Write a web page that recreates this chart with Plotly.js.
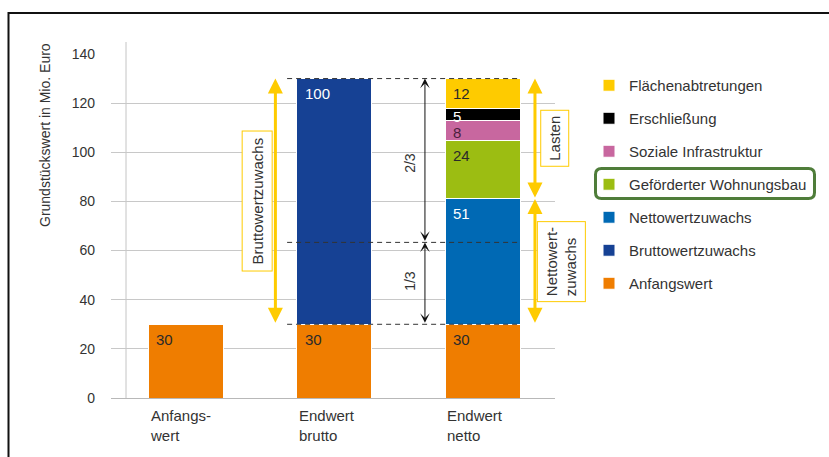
<!DOCTYPE html>
<html>
<head>
<meta charset="utf-8">
<script src="https://cdn.plot.ly/plotly-3.0.1.min.js"></script>
<style>
  html, body { margin: 0; padding: 0; background: #fff; }
  #chart { width: 829px; height: 457px; }
</style>
</head>
<body>
<div id="chart"></div>
<script>
// ---------- data ----------
const categories = ['Anfangswert', 'Endwert brutto', 'Endwert netto'];
const categoryLabels = ['Anfangs-<br>wert', 'Endwert<br>brutto', 'Endwert<br>netto'];

const seriesNames = ['Anfangswert', 'Bruttowertzuwachs', 'Nettowertzuwachs',
  'Geförderter Wohnungsbau', 'Soziale Infrastruktur', 'Erschließung', 'Flächenabtretungen'];
const anfangswert      = [30, 30, 30];
const bruttowertzuwachs = [null, 100, null];
const nettowertzuwachs  = [null, null, 51];
const gefoerderterWohnungsbau = [null, null, 24];
const sozialeInfrastruktur = [null, null, 8];
const erschliessung     = [null, null, 5];
const flaechenabtretungen = [null, null, 12];
const seriesValues = [anfangswert, bruttowertzuwachs, nettowertzuwachs,
  gefoerderterWohnungsbau, sozialeInfrastruktur, erschliessung, flaechenabtretungen];

const yTickVals = [0, 20, 40, 60, 80, 100, 120, 140];
const yTitle = 'Grundstückswert in Mio. Euro';
const bracketLabels = { brutto: 'Bruttowertzuwachs', lasten: 'Lasten', netto: 'Nettowert-<br>zuwachs', twoThirds: '2/3', oneThird: '1/3' };

// ---------- styles ----------
const colors = ['#ef7d00', '#164194', '#0069b4', '#9cbd12', '#c8679f', '#000000', '#fecb00'];
const labelColors = ['#2a2a2a', '#ffffff', '#ffffff', '#2a2a2a', '#4a1f3d', '#ffffff', '#2a2a2a'];
const FONT = 'Liberation Sans, Arial, sans-serif';
const TXT = '#333333';
const YELLOW = '#fecb00';

const W = 829, H = 457;
const M = { l: 111, r: 274, t: 54, b: 59 };
const plotW = W - M.l - M.r, plotH = H - M.t - M.b;
const yMax = 140;
const pxPerUnit = plotH / yMax;
const px2pxX = px => (px - M.l) / plotW;
const px2pyY = py => (H - M.b - py) / plotH;
const barWidth = 0.505;

// ---------- traces ----------
const traces = seriesNames.map((name, k) => ({
  type: 'bar',
  name: name,
  x: categories,
  y: seriesValues[k],
  width: barWidth,
  marker: { color: colors[k], line: { color: '#ffffff', width: 1 } },
  legendgroup: 'g' + k,
  legendrank: seriesNames.length - k,
  hoverinfo: 'skip'
}));

// ---------- annotations ----------
const annotations = [];
// value labels inside segments
const cum = categories.map(() => 0);
seriesValues.forEach((vals, k) => {
  vals.forEach((v, i) => {
    if (v === null || v === undefined) return;
    cum[i] += v;
    const segPx = v * pxPerUnit;
    const off = Math.min(15, segPx / 2 + 2);
    annotations.push({
      xref: 'x', yref: 'y', x: i - barWidth / 2, y: cum[i],
      xanchor: 'left', yanchor: 'middle', xshift: 6, yshift: -off,
      text: String(v), showarrow: false,
      font: { family: FONT, size: 15, color: labelColors[k] }
    });
  });
});

// category labels
categoryLabels.forEach((lab, i) => {
  annotations.push({
    xref: 'x', yref: 'paper', x: i - barWidth / 2, y: px2pyY(405),
    xanchor: 'left', yanchor: 'top', align: 'left',
    text: lab, showarrow: false,
    font: { family: FONT, size: 15, color: TXT }
  });
});

// y title
annotations.push({
  xref: 'paper', yref: 'paper', x: px2pxX(45), y: px2pyY(135),
  xanchor: 'center', yanchor: 'middle', textangle: -90,
  text: yTitle, showarrow: false,
  font: { family: FONT, size: 14, color: TXT }
});

// key levels from data
const base = anfangswert[1];
const bruttoTop = base + bruttowertzuwachs[1];
const third = base + bruttowertzuwachs[1] / 3;
const nettoTop = anfangswert[2] + nettowertzuwachs[2];
const nettoTotal = anfangswert[2] + nettowertzuwachs[2] + gefoerderterWohnungsbau[2] +
  sozialeInfrastruktur[2] + erschliessung[2] + flaechenabtretungen[2];

function dblArrow(x, y0, y1, color, width, head, size) {
  annotations.push({
    xref: 'x', yref: 'y', axref: 'x', ayref: 'y',
    x: x, y: y1, ax: x, ay: y0, text: '', showarrow: true,
    arrowside: 'end+start', arrowhead: head, startarrowhead: head,
    arrowsize: size, startarrowsize: size, arrowwidth: width, arrowcolor: color,
    standoff: 0, startstandoff: 0
  });
}
// black arrows (2/3, 1/3)
const xBlack = 2 + (425 - 482.7) / 148.5;
dblArrow(xBlack, third, bruttoTop, '#111', 1, 3, 1.6);
dblArrow(xBlack, base, third, '#111', 1, 3, 1.6);
// yellow arrows
const xYel1 = 1 + (275.3 - 334) / 148.5;
const xYel2 = 2 + (535 - 482.7) / 148.5;
dblArrow(xYel1, base, bruttoTop, YELLOW, 3, 2, 1.0);
dblArrow(xYel2, nettoTop, nettoTotal, YELLOW, 3, 2, 1.0);
dblArrow(xYel2, anfangswert[2], nettoTop, YELLOW, 3, 2, 1.0);

// fraction labels
annotations.push({ xref: 'x', yref: 'y', x: 2 + (410 - 482.7) / 148.5, y: (bruttoTop + third) / 2 - 1,
  xanchor: 'center', text: bracketLabels.twoThirds, textangle: -90, showarrow: false, font: { family: FONT, size: 14, color: TXT } });
annotations.push({ xref: 'x', yref: 'y', x: 2 + (410 - 482.7) / 148.5, y: (third + base) / 2 + 1,
  xanchor: 'center', text: bracketLabels.oneThird, textangle: -90, showarrow: false, font: { family: FONT, size: 14, color: TXT } });

// bracket label boxes
function boxLabel(xref, x, y, text, pad) {
  annotations.push({ xref: xref, yref: 'y', x: x, y: y, xanchor: 'center', yanchor: 'middle', text: text, textangle: -90,
    showarrow: false, align: 'left', bgcolor: '#ffffff', bordercolor: YELLOW, borderwidth: 1, borderpad: pad,
    font: { family: FONT, size: 15, color: TXT } });
}
boxLabel('x', 1 + (257 - 334) / 148.5, (base + bruttoTop) / 2, bracketLabels.brutto, 6);
boxLabel('paper', px2pxX(555), (nettoTop + nettoTotal) / 2, bracketLabels.lasten, 5);
boxLabel('paper', px2pxX(561.5), (anfangswert[2] + nettoTop) / 2, bracketLabels.netto, 5);

// ---------- shapes ----------
const shapes = [];
// frame (top and left)
shapes.push({ type: 'line', xref: 'paper', yref: 'paper', x0: px2pxX(8), x1: px2pxX(830), y0: px2pyY(13), y1: px2pyY(13),
  line: { color: '#111', width: 2 } });
shapes.push({ type: 'line', xref: 'paper', yref: 'paper', x0: px2pxX(8.5), x1: px2pxX(8.5), y0: px2pyY(12), y1: px2pyY(460),
  line: { color: '#111', width: 2 } });
// vertical axis line
shapes.push({ type: 'line', xref: 'paper', yref: 'paper', x0: px2pxX(126), x1: px2pxX(126), y0: 0, y1: px2pyY(42),
  line: { color: '#c4c4c4', width: 1 }, layer: 'below' });
// dashed level lines
const dashX0 = 1 + (287 - 334) / 148.5, dashX1 = 2 + barWidth / 2;
[bruttoTop, third, base].forEach(yv => {
  shapes.push({ type: 'line', xref: 'x', yref: 'y', x0: dashX0, x1: dashX1, y0: yv, y1: yv,
    line: { color: '#333', width: 1, dash: '5px,4px' }, layer: 'above' });
});
// green highlight box around legend item (rounded)
(function () {
  const x0 = px2pxX(595.5), x1 = px2pxX(814.5), y0 = px2pyY(198.5), y1 = px2pyY(168.5);
  const rx = 6 / plotW, ry = 6 / plotH;
  const p = `M ${x0 + rx} ${y1} L ${x1 - rx} ${y1} Q ${x1} ${y1} ${x1} ${y1 - ry} L ${x1} ${y0 + ry} Q ${x1} ${y0} ${x1 - rx} ${y0} ` +
    `L ${x0 + rx} ${y0} Q ${x0} ${y0} ${x0} ${y0 + ry} L ${x0} ${y1 - ry} Q ${x0} ${y1} ${x0 + rx} ${y1} Z`;
  shapes.push({ type: 'path', xref: 'paper', yref: 'paper', path: p, line: { color: '#4f7d3a', width: 3 } });
})();

const layout = {
  width: W, height: H,
  margin: M,
  paper_bgcolor: '#ffffff', plot_bgcolor: '#ffffff',
  barmode: 'stack',
  showlegend: true,
  legend: {
    x: px2pxX(589), y: px2pyY(69), xanchor: 'left', yanchor: 'top',
    traceorder: 'grouped', tracegroupgap: 10.5,
    font: { family: FONT, size: 15, color: TXT },
    bgcolor: 'rgba(0,0,0,0)', borderwidth: 0
  },
  font: { family: FONT, size: 14, color: TXT },
  xaxis: {
    type: 'category', range: [-0.502, 2.487], showticklabels: false,
    showgrid: false, zeroline: false, showline: false, ticks: '', fixedrange: true
  },
  yaxis: {
    range: [0, yMax], tickvals: yTickVals, showgrid: true, gridcolor: '#c8c8c8', gridwidth: 1,
    zeroline: true, zerolinecolor: '#b8b8b8', zerolinewidth: 1, showline: false, ticks: '',
    ticklabelstandoff: 15, tickfont: { family: FONT, size: 14, color: TXT }, fixedrange: true
  },
  annotations: annotations,
  shapes: shapes
};

Plotly.newPlot('chart', traces, layout, { staticPlot: true, displayModeBar: false });
</script>
</body>
</html>
